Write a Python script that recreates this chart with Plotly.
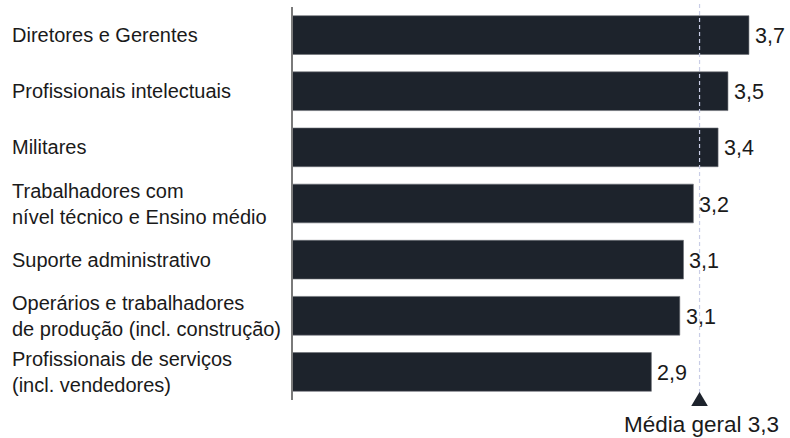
import plotly.graph_objects as go

categories = [
    "Diretores e Gerentes",
    "Profissionais intelectuais",
    "Militares",
    "Trabalhadores com<br>nível técnico e Ensino médio",
    "Suporte administrativo",
    "Operários e trabalhadores<br>de produção (incl. construção)",
    "Profissionais de serviços<br>(incl. vendedores)",
]
values = [3.70, 3.53, 3.45, 3.25, 3.17, 3.14, 2.91]
value_labels = ["3,7", "3,5", "3,4", "3,2", "3,1", "3,1", "2,9"]
mean_value = 3.30
mean_label = "Média geral 3,3"
header = "Ocupação"

FONT = "Liberation Sans, Arial, Helvetica, sans-serif"
BAR = "#1d232c"
TXT = "#1a1a1a"

L, R, T, B = 292, 0, 7, 38
W, H = 790, 438
pw = W - L - R
px_per_unit = 123.5
xmax = pw / px_per_unit
ph = H - T - B

idx = list(range(len(categories)))

fig = go.Figure()
fig.add_trace(go.Bar(
    x=values, y=idx, orientation="h",
    marker=dict(color=BAR, line=dict(color="#6b6f75", width=0.6)),
    width=0.69, hoverinfo="skip",
))

ann = []
for i, (c, v, lab) in enumerate(zip(categories, values, value_labels)):
    ann.append(dict(x=(10 - L) / pw, xref="paper", y=i, yref="y", text=c,
                    xanchor="left", yanchor="middle", align="left", showarrow=False,
                    font=dict(family=FONT, size=20, color=TXT)))
    ann.append(dict(x=v, xref="x", y=i, yref="y", text=lab, xanchor="left",
                    yanchor="middle", xshift=4, yshift=-1, showarrow=False,
                    font=dict(family=FONT, size=21.5, color=TXT)))

ann.append(dict(x=mean_value, xref="x", y=(H - B - 438) / ph, yref="paper",
                text=mean_label, xanchor="center", yanchor="bottom", showarrow=False,
                xshift=2, borderpad=0, font=dict(family=FONT, size=22.5, color=TXT)))
ann.append(dict(x=(27 - L) / pw, xref="paper", y=(H - B - 2) / ph, yref="paper",
                text=header, xanchor="left", yanchor="bottom", showarrow=False,
                font=dict(family=FONT, size=20, color="#9a9a9a")))

shapes = [
    dict(type="line", xref="x", yref="paper", x0=mean_value, x1=mean_value,
         y0=(H - B - 393) / ph, y1=(H - B - 3) / ph,
         line=dict(color="#c9cde6", width=1.2, dash="4px,3px"), layer="above"),
    dict(type="path", xref="x", yref="paper", xsizemode="pixel", ysizemode="pixel",
         xanchor=mean_value, yanchor=(H - B - 406) / ph,
         path="M -8.3,0 L 8.3,0 L 0,14 Z", fillcolor=BAR, line=dict(width=0)),
    dict(type="line", xref="paper", yref="paper", x0=0, x1=0, y0=0, y1=1,
         line=dict(color="#7a7a7a", width=2)),
]

fig.update_layout(
    width=W, height=H,
    margin=dict(l=L, r=R, t=T, b=B, pad=0),
    paper_bgcolor="white", plot_bgcolor="white",
    showlegend=False,
    xaxis=dict(range=[0, xmax], visible=False, fixedrange=True),
    yaxis=dict(range=[len(categories) - 0.5, -0.5], visible=False, fixedrange=True),
    annotations=ann, shapes=shapes,
    bargap=0.31,
)

fig.write_html("out.html", config={"displayModeBar": False})
